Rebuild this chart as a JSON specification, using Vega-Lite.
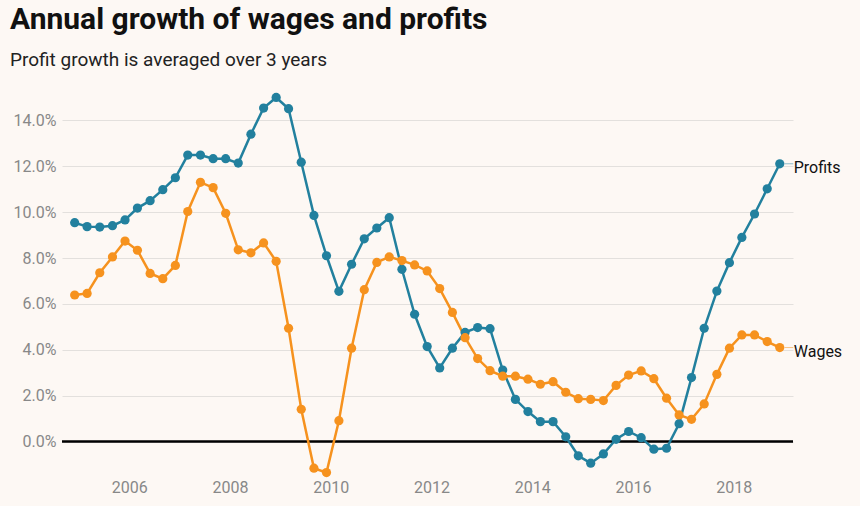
{
  "$schema": "https://vega.github.io/schema/vega-lite/v6.json",
  "width": 731,
  "height": 390,
  "autosize": "none",
  "padding": {"left": 62, "top": 86, "right": 67, "bottom": 30},
  "background": "#fdf8f4",
  "title": {
    "text": "Annual growth of wages and profits",
    "subtitle": "Profit growth is averaged over 3 years",
    "anchor": "start",
    "frame": "group",
    "dx": -52,
    "offset": 16,
    "font": "Roboto",
    "fontSize": 30,
    "fontWeight": "bold",
    "color": "#111111",
    "subtitleFont": "Roboto",
    "subtitleFontSize": 19,
    "subtitleColor": "#222222",
    "subtitlePadding": 16
  },
  "config": {
    "view": {"stroke": null},
    "font": "Roboto"
  },
  "datasets": {
    "growth": [
      {"date": "2004-12-01", "Profits": 9.54, "Wages": 6.39},
      {"date": "2005-03-01", "Profits": 9.37, "Wages": 6.46},
      {"date": "2005-06-01", "Profits": 9.35, "Wages": 7.36},
      {"date": "2005-09-01", "Profits": 9.41, "Wages": 8.05},
      {"date": "2005-12-01", "Profits": 9.66, "Wages": 8.74},
      {"date": "2006-03-01", "Profits": 10.18, "Wages": 8.34},
      {"date": "2006-06-01", "Profits": 10.5, "Wages": 7.33},
      {"date": "2006-09-01", "Profits": 10.98, "Wages": 7.1},
      {"date": "2006-12-01", "Profits": 11.5, "Wages": 7.68},
      {"date": "2007-03-01", "Profits": 12.49, "Wages": 10.03},
      {"date": "2007-06-01", "Profits": 12.49, "Wages": 11.3},
      {"date": "2007-09-01", "Profits": 12.33, "Wages": 11.07},
      {"date": "2007-12-01", "Profits": 12.33, "Wages": 9.95},
      {"date": "2008-03-01", "Profits": 12.14, "Wages": 8.36},
      {"date": "2008-06-01", "Profits": 13.4, "Wages": 8.23},
      {"date": "2008-09-01", "Profits": 14.54, "Wages": 8.66},
      {"date": "2008-12-01", "Profits": 15.0, "Wages": 7.86},
      {"date": "2009-03-01", "Profits": 14.51, "Wages": 4.94},
      {"date": "2009-06-01", "Profits": 12.18, "Wages": 1.41},
      {"date": "2009-09-01", "Profits": 9.86, "Wages": -1.16},
      {"date": "2009-12-01", "Profits": 8.1, "Wages": -1.35},
      {"date": "2010-03-01", "Profits": 6.55, "Wages": 0.91},
      {"date": "2010-06-01", "Profits": 7.73, "Wages": 4.07},
      {"date": "2010-09-01", "Profits": 8.84, "Wages": 6.62},
      {"date": "2010-12-01", "Profits": 9.31, "Wages": 7.81},
      {"date": "2011-03-01", "Profits": 9.76, "Wages": 8.05},
      {"date": "2011-06-01", "Profits": 7.51, "Wages": 7.89},
      {"date": "2011-09-01", "Profits": 5.55, "Wages": 7.7},
      {"date": "2011-12-01", "Profits": 4.14, "Wages": 7.44},
      {"date": "2012-03-01", "Profits": 3.21, "Wages": 6.67},
      {"date": "2012-06-01", "Profits": 4.07, "Wages": 5.63},
      {"date": "2012-09-01", "Profits": 4.76, "Wages": 4.53},
      {"date": "2012-12-01", "Profits": 4.97, "Wages": 3.62},
      {"date": "2013-03-01", "Profits": 4.92, "Wages": 3.09},
      {"date": "2013-06-01", "Profits": 3.12, "Wages": 2.85},
      {"date": "2013-09-01", "Profits": 1.84, "Wages": 2.85},
      {"date": "2013-12-01", "Profits": 1.31, "Wages": 2.72},
      {"date": "2014-03-01", "Profits": 0.87, "Wages": 2.5},
      {"date": "2014-06-01", "Profits": 0.87, "Wages": 2.61},
      {"date": "2014-09-01", "Profits": 0.21, "Wages": 2.15},
      {"date": "2014-12-01", "Profits": -0.62, "Wages": 1.87},
      {"date": "2015-03-01", "Profits": -0.94, "Wages": 1.84},
      {"date": "2015-06-01", "Profits": -0.54, "Wages": 1.79},
      {"date": "2015-09-01", "Profits": 0.1, "Wages": 2.45},
      {"date": "2015-12-01", "Profits": 0.44, "Wages": 2.9},
      {"date": "2016-03-01", "Profits": 0.17, "Wages": 3.08},
      {"date": "2016-06-01", "Profits": -0.33, "Wages": 2.74},
      {"date": "2016-09-01", "Profits": -0.29, "Wages": 1.89},
      {"date": "2016-12-01", "Profits": 0.78, "Wages": 1.16},
      {"date": "2017-03-01", "Profits": 2.79, "Wages": 0.97},
      {"date": "2017-06-01", "Profits": 4.94, "Wages": 1.64},
      {"date": "2017-09-01", "Profits": 6.56, "Wages": 2.93},
      {"date": "2017-12-01", "Profits": 7.8, "Wages": 4.07},
      {"date": "2018-03-01", "Profits": 8.9, "Wages": 4.65},
      {"date": "2018-06-01", "Profits": 9.92, "Wages": 4.65},
      {"date": "2018-09-01", "Profits": 11.02, "Wages": 4.36},
      {"date": "2018-12-01", "Profits": 12.11, "Wages": 4.1}
    ],
    "zero": [{"value": 0}]
  },
  "data": {"name": "growth"},
  "transform": [{"fold": ["Profits", "Wages"], "as": ["series", "value"]}],
  "encoding": {
    "x": {
      "field": "date",
      "type": "temporal",
      "title": null,
      "scale": {
        "domain": [
          {"year": 2004, "month": 8, "date": 31},
          {"year": 2019, "month": 3, "date": 7}
        ]
      },
      "axis": {
        "format": "%Y",
        "tickCount": {"interval": "year", "step": 2},
        "grid": false,
        "ticks": false,
        "domain": false,
        "labelFontSize": 16,
        "labelColor": "#888888",
        "labelPadding": 3
      }
    },
    "y": {
      "field": "value",
      "type": "quantitative",
      "title": null,
      "scale": {"domain": [-1.5, 15.5], "nice": false},
      "axis": {
        "values": [0, 2, 4, 6, 8, 10, 12, 14],
        "labelExpr": "format(datum.value, '.1f') + '%'",
        "grid": true,
        "gridColor": "#e3e0dd",
        "gridWidth": 1.2,
        "ticks": false,
        "domain": false,
        "labelFontSize": 16,
        "labelColor": "#888888",
        "labelPadding": 6
      }
    },
    "color": {
      "field": "series",
      "type": "nominal",
      "legend": null,
      "scale": {"domain": ["Profits", "Wages"], "range": ["#22809e", "#f6921e"]}
    }
  },
  "layer": [
    {
      "data": {"name": "zero"},
      "mark": {"type": "rule", "color": "#000000", "strokeWidth": 2.5},
      "encoding": {"y": {"field": "value", "type": "quantitative"}, "x": null, "color": null}
    },
    {
      "mark": {"type": "line", "strokeWidth": 2.5}
    },
    {
      "mark": {"type": "point", "filled": true, "opacity": 1, "size": 85}
    },
    {
      "mark": {"type": "point", "shape": "M 1 0 L 2.7 0", "size": 100, "filled": false, "strokeWidth": 1, "opacity": 0.5},
      "encoding": {
        "x": {"aggregate": "max", "field": "date", "type": "temporal"},
        "y": {"aggregate": {"argmax": "date"}, "field": "value", "type": "quantitative"}
      }
    },
    {
      "mark": {"type": "text", "align": "left", "baseline": "middle", "dx": 14, "dy": 4, "fontSize": 16, "color": "#111111"},
      "encoding": {
        "x": {"aggregate": "max", "field": "date", "type": "temporal"},
        "y": {"aggregate": {"argmax": "date"}, "field": "value", "type": "quantitative"},
        "text": {"field": "series", "type": "nominal"},
        "color": null
      }
    }
  ]
}
